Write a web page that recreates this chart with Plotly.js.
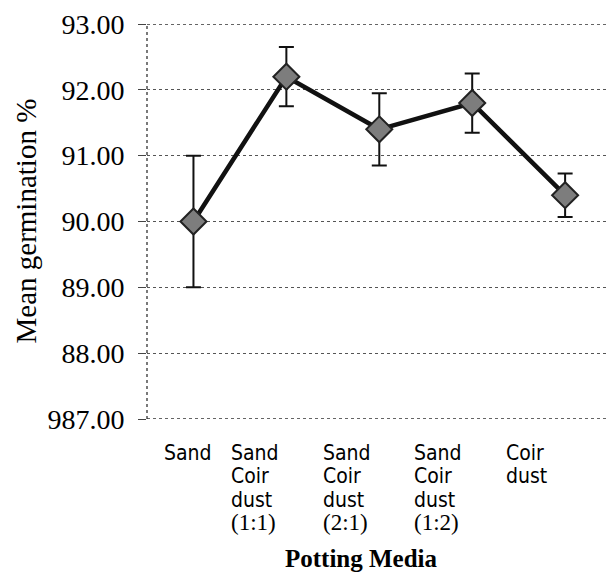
<!DOCTYPE html>
<html>
<head>
<meta charset="utf-8">
<script src="https://cdn.plot.ly/plotly-3.0.1.min.js"></script>
<style>html,body{margin:0;padding:0;background:#fff;}#chart{width:606px;height:572px;}</style>
</head>
<body>
<div id="chart"></div>
<script>
// ---- data ----
const categories = ["Sand", "Sand Coir dust (1:1)", "Sand Coir dust (2:1)", "Sand Coir dust (1:2)", "Coir dust"];
const categoryLines = [
  ["Sand"],
  ["Sand", "Coir", "dust", "(1:1)"],
  ["Sand", "Coir", "dust", "(2:1)"],
  ["Sand", "Coir", "dust", "(1:2)"],
  ["Coir", "dust"]
];
const meanGermination = [90.0, 92.2, 91.4, 91.8, 90.4];
const errorValues = [1.0, 0.45, 0.55, 0.45, 0.33];
const yTickValues = [87, 88, 89, 90, 91, 92, 93];
const yTickLabels = ["987.00", "88.00", "89.00", "90.00", "91.00", "92.00", "93.00"];
const xTitle = "Potting Media";
const yTitle = "Mean germination %";

// ---- style ----
const serif = "Liberation Serif, Times New Roman, serif";
const narrow = "Liberation Sans Narrow, Arial Narrow, DejaVu Sans Condensed, sans-serif";
const labelShift = [-31, -57, -58, -60, -61];
const lineStep = 23.3;
const frameStyle = {color: "#333", width: 1.3, dash: "dot"};

const xIdx = categories.map((c, i) => i);

const trace = {
  type: "scatter",
  mode: "lines+markers",
  x: xIdx,
  y: meanGermination,
  line: {color: "#111", width: 4.5},
  marker: {symbol: "diamond", size: 20, color: "#7d7d7d", line: {color: "#222", width: 2}},
  error_y: {type: "data", array: errorValues, visible: true, color: "#111", thickness: 2, width: 7.5},
  hoverinfo: "skip",
  showlegend: false
};

const annotations = [];
categoryLines.forEach((lines, i) => {
  lines.forEach((txt, j) => {
    const isRatio = txt.startsWith("(");
    annotations.push({
      xref: "x", yref: "paper", x: i, y: 0,
      xanchor: "left", yanchor: "middle",
      xshift: labelShift[i], yshift: -34 - j * lineStep,
      text: txt, showarrow: false,
      font: {family: isRatio ? serif : narrow, size: isRatio ? 23 : 21, color: "#000"}
    });
  });
});
annotations.push({
  xref: "paper", yref: "paper", x: 0.468, y: 0, xanchor: "center", yanchor: "middle",
  yshift: -139, text: "<b>" + xTitle + "</b>", showarrow: false,
  font: {family: serif, size: 25, color: "#000"}
});
annotations.push({
  xref: "paper", yref: "paper", x: 0, y: 0.5, xanchor: "center", yanchor: "middle",
  xshift: -122, textangle: -90, text: yTitle, showarrow: false,
  font: {family: serif, size: 29, color: "#000"}
});

const yMin = yTickValues[0], yMax = yTickValues[yTickValues.length - 1];

const layout = {
  width: 606, height: 572,
  margin: {l: 147, r: 0, t: 24, b: 153},
  paper_bgcolor: "#fff", plot_bgcolor: "#fff",
  xaxis: {
    range: [-0.5, 4.44],
    showticklabels: false, ticks: "",
    showgrid: false, zeroline: false, showline: false
  },
  yaxis: {
    range: [yMin, yMax],
    tickvals: yTickValues, ticktext: yTickLabels,
    ticks: "outside", ticklen: 8, tickcolor: "#444", tickwidth: 1,
    ticklabelstandoff: 8,
    tickfont: {family: serif, size: 28, color: "#000"},
    showgrid: true, gridcolor: "#555", griddash: "dot", gridwidth: 1.2,
    zeroline: false, showline: false
  },
  shapes: [
    {type: "line", xref: "paper", yref: "y", x0: 0, x1: 1, y0: yMax, y1: yMax, line: frameStyle},
    {type: "line", xref: "paper", yref: "y", x0: 0, x1: 1, y0: yMin, y1: yMin, line: frameStyle},
    {type: "line", xref: "paper", yref: "paper", x0: 0, x1: 0, y0: 0, y1: 1, line: frameStyle}
  ],
  annotations: annotations
};

Plotly.newPlot("chart", [trace], layout, {staticPlot: true, displayModeBar: false});
</script>
</body>
</html>
